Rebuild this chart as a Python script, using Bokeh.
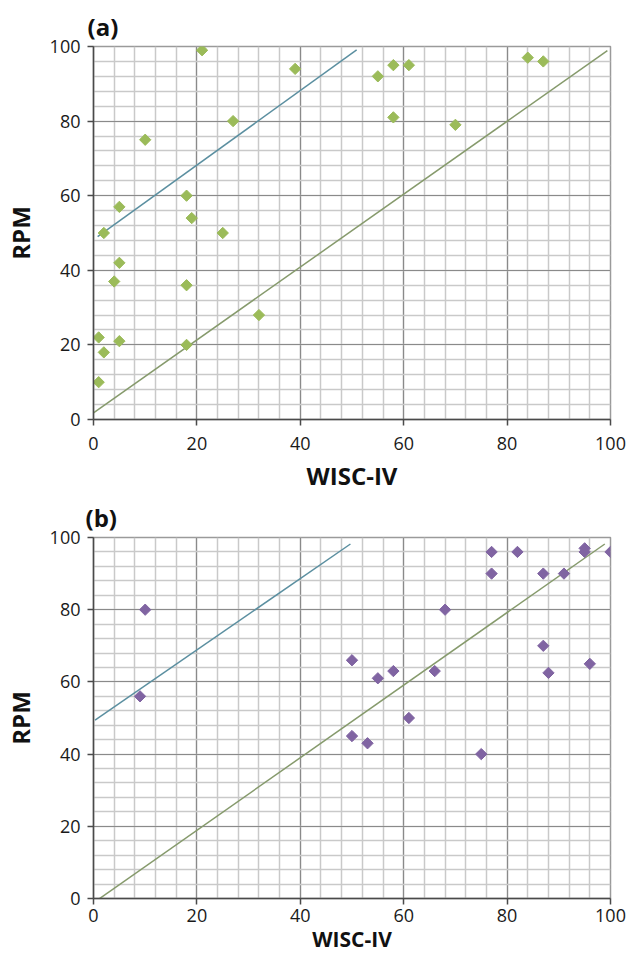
import math
from bokeh.plotting import figure
from bokeh.models import Range1d, SingleIntervalTicker
from bokeh.layouts import column
from bokeh.embed import file_html
from bokeh.resources import INLINE

# ---- data ----
a_wisc = [21, 39, 27, 10, 18, 5, 19, 2, 25, 5, 4, 18, 32, 1, 5, 2, 18, 1, 55, 58, 61, 58, 70, 84, 87]
a_rpm = [99, 94, 80, 75, 60, 57, 54, 50, 50, 42, 37, 36, 28, 22, 21, 18, 20, 10, 92, 95, 95, 81, 79, 97, 96]

b_wisc = [10, 9, 77, 82, 95, 95, 100, 77, 87, 91, 68, 87, 50, 58, 55, 66, 88, 96, 61, 50, 53, 75]
b_rpm = [80, 56, 96, 96, 97, 96, 96, 90, 90, 90, 80, 70, 66, 63, 61, 63, 62.5, 65, 50, 45, 43, 40]

a_blue_x = [0.8, 50.9]
a_blue_y = [49.0, 99.1]
a_green_x = [0.0, 99.4]
a_green_y = [1.8, 98.9]

b_blue_x = [0.3, 49.7]
b_blue_y = [49.4, 98.2]
b_green_x = [0.2, 98.9]
b_green_y = [-1.0, 98.2]

x_title = "WISC-IV"
y_title = "RPM"

GREEN_PT = "#9BBB59"
PURPLE_PT = "#8064A2"
BLUE_LINE = "#5B8FA0"
GREEN_LINE = "#869A6C"


def make_fig(height, border_l, border_r, border_t, border_b, xs, ys, color,
             blue_x, blue_y, green_x, green_y, tag, tag_dx, tag_standoff,
             xtick_standoff, xlab_standoff, ylab_standoff, xlab_size):
    p = figure(width=628, height=height, x_range=Range1d(0, 100), y_range=Range1d(0, 100),
               output_backend="svg", toolbar_location=None,
               min_border_left=border_l, min_border_right=border_r,
               min_border_top=border_t, min_border_bottom=border_b)
    p.background_fill_color = "white"
    p.border_fill_color = "white"
    p.outline_line_color = "#9a9a9a"
    p.outline_line_width = 1.5

    p.title.text = tag
    p.title.align = "left"
    p.title.offset = tag_dx
    p.title.standoff = tag_standoff
    p.title.text_font = "Open Sans"
    p.title.text_font_style = "bold"
    p.title.text_font_size = "24px"
    p.title.text_color = "#111111"

    for ax, gr in ((p.xaxis[0], p.xgrid[0]), (p.yaxis[0], p.ygrid[0])):
        t = SingleIntervalTicker(interval=20, num_minor_ticks=5)
        ax.ticker = t
        gr.ticker = t
        gr.grid_line_color = "#8a8a8a"
        gr.grid_line_width = 1.2
        gr.minor_grid_line_color = "#c9c9c9"
        gr.minor_grid_line_width = 1.5
        ax.axis_line_color = "#4a4a4a"
        ax.axis_line_width = 1.5
        ax.major_tick_line_color = "#4a4a4a"
        ax.major_tick_line_width = 1.5
        ax.major_tick_out = 6
        ax.major_tick_in = 0
        ax.minor_tick_line_color = None
        ax.major_label_text_font = "Open Sans"
        ax.major_label_text_font_size = "18px"
        ax.major_label_text_color = "#1a1a1a"
        ax.axis_label_text_font = "Open Sans"
        ax.axis_label_text_font_style = "bold"
        ax.axis_label_text_font_size = "24px"
        ax.axis_label_text_color = "#111111"
    p.xaxis.axis_label_text_font_size = xlab_size
    p.xaxis.major_label_standoff = xtick_standoff
    p.yaxis.major_label_standoff = 7
    p.xaxis.axis_label = x_title
    p.yaxis.axis_label = y_title
    p.xaxis.axis_label_standoff = xlab_standoff
    p.yaxis.axis_label_standoff = ylab_standoff

    p.line(green_x, green_y, line_color=GREEN_LINE, line_width=1.5)
    p.line(blue_x, blue_y, line_color=BLUE_LINE, line_width=1.5)
    p.scatter(xs, ys, marker="square", angle=math.pi / 4, size=8,
              fill_color=color, line_color=color)
    return p


pa = make_fig(495, 84, 17, 46, 76, a_wisc, a_rpm, GREEN_PT,
              a_blue_x, a_blue_y, a_green_x, a_green_y,
              "(a)", -6, 8, 11, 6, 10, "24px")
pb = make_fig(460, 88, 18, 42, 55, b_wisc, b_rpm, PURPLE_PT,
              b_blue_x, b_blue_y, b_green_x, b_green_y,
              "(b)", -8, 7, 4, 0, 10, "21px")

layout = column(pa, pb, spacing=0)
open("out.html", "w").write(file_html(layout, INLINE))
